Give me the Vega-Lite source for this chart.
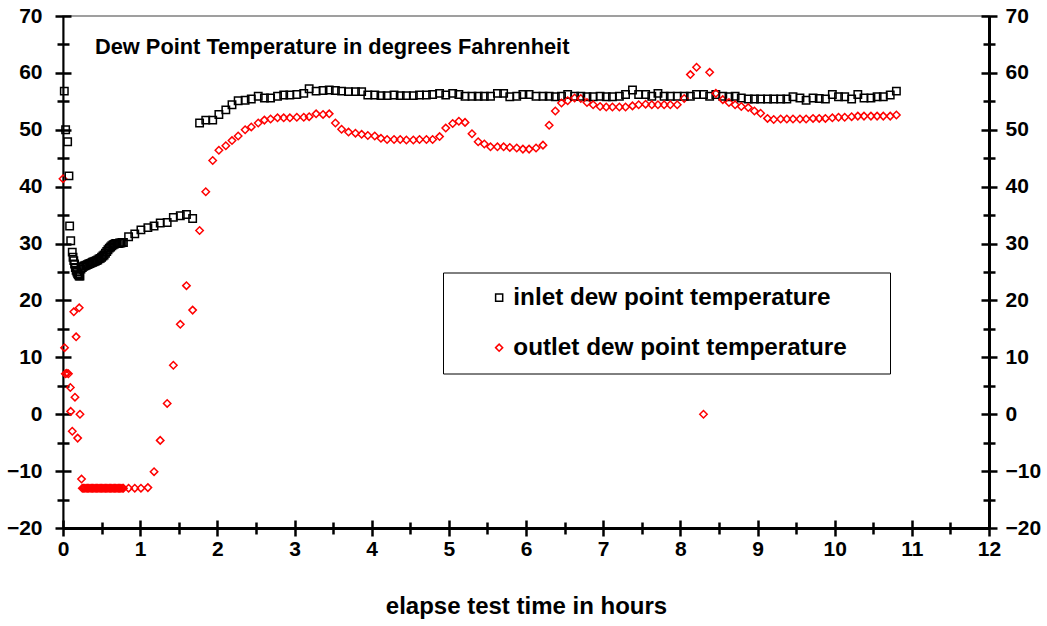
{
  "$schema": "https://vega.github.io/schema/vega-lite/v6.json",
  "width": 926,
  "height": 512,
  "autosize": {"type": "none"},
  "padding": {"left": 63, "top": 16, "right": 58, "bottom": 98},
  "background": "white",
  "view": {"stroke": "#808080", "strokeWidth": 1.5},
  "config": {
    "font": "Liberation Sans",
    "axis": {
      "grid": false,
      "labelFont": "Liberation Sans",
      "labelFontWeight": "bold",
      "labelFontSize": 21,
      "labelColor": "#000000",
      "labelFlush": false,
      "labelOverlap": false,
      "labelBound": false,
      "domainColor": "#000000",
      "tickColor": "#000000",
      "tickWidth": 2.5,
      "titleFont": "Liberation Sans",
      "titleFontWeight": "bold",
      "titleColor": "#000000"
    }
  },
  "title": {
    "text": "Dew Point Temperature in degrees Fahrenheit",
    "anchor": "start",
    "frame": "group",
    "orient": "top",
    "offset": -71,
    "dx": 32,
    "baseline": "alphabetic",
    "fontSize": 21.8,
    "font": "Liberation Sans",
    "fontWeight": "bold",
    "color": "#000000"
  },
  "resolve": {"axis": {"x": "independent", "y": "independent"}},
  "layer": [
    {
      "data": {"values": [
        {"h": 0.0, "o": 41.4},
        {"h": 0.017, "i": 56.8},
        {"h": 0.02, "o": 11.7},
        {"h": 0.03, "o": 7.1},
        {"h": 0.034, "i": 50.0},
        {"h": 0.05, "o": 7.2},
        {"h": 0.06, "i": 47.9},
        {"h": 0.07, "o": 7.1},
        {"h": 0.077, "i": 41.9},
        {"h": 0.086, "i": 33.1},
        {"h": 0.095, "o": 4.7},
        {"h": 0.10, "i": 30.5, "o": 0.5},
        {"h": 0.12, "i": 28.5, "o": -3.0},
        {"h": 0.13, "i": 27.6},
        {"h": 0.14, "i": 27.0, "o": 18.0},
        {"h": 0.15, "i": 26.4},
        {"h": 0.155, "o": 3.0},
        {"h": 0.16, "i": 25.8},
        {"h": 0.17, "i": 25.3, "o": 13.6},
        {"h": 0.18, "i": 25.0},
        {"h": 0.19, "i": 24.7, "o": -4.2},
        {"h": 0.20, "i": 24.5},
        {"h": 0.21, "i": 24.3, "o": 18.7},
        {"h": 0.22, "i": 24.3, "o": 0.0},
        {"h": 0.233, "i": 25.5},
        {"h": 0.24, "o": -11.4},
        {"h": 0.25, "i": 25.8, "o": -13.0},
        {"h": 0.267, "i": 26.0, "o": -13.0},
        {"h": 0.283, "i": 26.1, "o": -13.0},
        {"h": 0.30, "i": 26.2, "o": -13.0},
        {"h": 0.317, "i": 26.3, "o": -13.0},
        {"h": 0.333, "i": 26.4, "o": -13.0},
        {"h": 0.35, "i": 26.5, "o": -13.0},
        {"h": 0.367, "i": 26.6, "o": -13.0},
        {"h": 0.383, "i": 26.7, "o": -13.0},
        {"h": 0.40, "i": 26.8, "o": -13.0},
        {"h": 0.417, "i": 26.9, "o": -13.0},
        {"h": 0.433, "i": 27.0, "o": -13.0},
        {"h": 0.45, "i": 27.1, "o": -13.0},
        {"h": 0.467, "i": 27.3, "o": -13.0},
        {"h": 0.483, "i": 27.4, "o": -13.0},
        {"h": 0.50, "i": 27.6, "o": -13.0},
        {"h": 0.517, "i": 27.8, "o": -13.0},
        {"h": 0.533, "i": 28.0, "o": -13.0},
        {"h": 0.55, "i": 28.3, "o": -13.0},
        {"h": 0.567, "i": 28.6, "o": -13.0},
        {"h": 0.583, "i": 28.9, "o": -13.0},
        {"h": 0.60, "i": 29.2, "o": -13.0},
        {"h": 0.617, "i": 29.4, "o": -13.0},
        {"h": 0.633, "i": 29.6, "o": -13.0},
        {"h": 0.65, "i": 29.8, "o": -13.0},
        {"h": 0.667, "i": 29.9, "o": -13.0},
        {"h": 0.683, "i": 30.0, "o": -13.0},
        {"h": 0.70, "i": 30.0, "o": -13.0},
        {"h": 0.717, "i": 30.0, "o": -13.0},
        {"h": 0.733, "i": 30.1, "o": -13.0},
        {"h": 0.75, "i": 30.1, "o": -13.0},
        {"h": 0.767, "i": 30.2, "o": -13.0},
        {"h": 0.783, "i": 30.2, "o": -13.0},
        {"h": 0.85, "i": 31.2, "o": -13.0},
        {"h": 0.93, "i": 31.7, "o": -13.0},
        {"h": 1.01, "i": 32.4, "o": -13.0},
        {"h": 1.10, "i": 32.8, "o": -12.9},
        {"h": 1.18, "i": 33.1, "o": -10.1},
        {"h": 1.26, "i": 33.6, "o": -4.6},
        {"h": 1.35, "i": 33.7, "o": 1.9},
        {"h": 1.43, "i": 34.6, "o": 8.6},
        {"h": 1.52, "i": 34.9, "o": 15.8},
        {"h": 1.60, "i": 35.1, "o": 22.6},
        {"h": 1.68, "i": 34.4, "o": 18.3},
        {"h": 1.77, "i": 51.2, "o": 32.3},
        {"h": 1.85, "i": 51.7, "o": 39.1},
        {"h": 1.94, "i": 51.7, "o": 44.6},
        {"h": 2.02, "i": 52.7, "o": 46.4},
        {"h": 2.11, "i": 53.5, "o": 47.2},
        {"h": 2.19, "i": 54.4, "o": 48.1},
        {"h": 2.27, "i": 55.1, "o": 48.9},
        {"h": 2.36, "i": 55.2, "o": 50.0},
        {"h": 2.44, "i": 55.4, "o": 50.5},
        {"h": 2.53, "i": 55.9, "o": 51.2},
        {"h": 2.61, "i": 55.6, "o": 51.7},
        {"h": 2.69, "i": 55.6, "o": 51.9},
        {"h": 2.78, "i": 55.9, "o": 52.1},
        {"h": 2.86, "i": 56.1, "o": 52.1},
        {"h": 2.94, "i": 56.1, "o": 52.1},
        {"h": 3.03, "i": 56.2, "o": 52.2},
        {"h": 3.12, "i": 56.4, "o": 52.2},
        {"h": 3.19, "i": 57.2, "o": 52.3},
        {"h": 3.28, "i": 56.8, "o": 52.8},
        {"h": 3.37, "i": 56.9, "o": 52.7},
        {"h": 3.45, "i": 57.0, "o": 52.8},
        {"h": 3.53, "i": 56.9, "o": 51.2},
        {"h": 3.61, "i": 56.8, "o": 50.1},
        {"h": 3.70, "i": 56.7, "o": 49.6},
        {"h": 3.79, "i": 56.7, "o": 49.4},
        {"h": 3.87, "i": 56.7, "o": 49.2},
        {"h": 3.95, "i": 56.1, "o": 49.0},
        {"h": 4.04, "i": 56.1, "o": 48.9},
        {"h": 4.12, "i": 56.0, "o": 48.5},
        {"h": 4.20, "i": 56.0, "o": 48.3},
        {"h": 4.29, "i": 56.1, "o": 48.3},
        {"h": 4.37, "i": 56.0, "o": 48.3},
        {"h": 4.45, "i": 56.0, "o": 48.2},
        {"h": 4.54, "i": 56.0, "o": 48.2},
        {"h": 4.62, "i": 56.1, "o": 48.3},
        {"h": 4.71, "i": 56.1, "o": 48.3},
        {"h": 4.79, "i": 56.2, "o": 48.3},
        {"h": 4.88, "i": 56.4, "o": 48.8},
        {"h": 4.96, "i": 56.1, "o": 50.3},
        {"h": 5.05, "i": 56.4, "o": 51.1},
        {"h": 5.13, "i": 56.2, "o": 51.5},
        {"h": 5.21, "i": 55.9, "o": 51.3},
        {"h": 5.30, "i": 55.9, "o": 49.3},
        {"h": 5.38, "i": 55.9, "o": 47.9},
        {"h": 5.46, "i": 55.9, "o": 47.5},
        {"h": 5.54, "i": 55.9, "o": 47.0},
        {"h": 5.63, "i": 56.4, "o": 47.0},
        {"h": 5.71, "i": 56.4, "o": 47.0},
        {"h": 5.79, "i": 55.8, "o": 46.9},
        {"h": 5.88, "i": 55.9, "o": 46.8},
        {"h": 5.96, "i": 56.2, "o": 46.6},
        {"h": 6.04, "i": 56.2, "o": 46.6},
        {"h": 6.13, "i": 55.9, "o": 46.8},
        {"h": 6.22, "i": 55.9, "o": 47.3},
        {"h": 6.30, "i": 55.9, "o": 50.8},
        {"h": 6.38, "i": 55.8, "o": 53.3},
        {"h": 6.46, "i": 55.9, "o": 54.7},
        {"h": 6.54, "i": 56.2, "o": 55.1},
        {"h": 6.63, "i": 55.9, "o": 55.6},
        {"h": 6.71, "i": 55.9, "o": 55.5},
        {"h": 6.79, "i": 55.8, "o": 54.8},
        {"h": 6.87, "i": 55.8, "o": 54.4},
        {"h": 6.96, "i": 55.9, "o": 54.1},
        {"h": 7.04, "i": 55.8, "o": 54.0},
        {"h": 7.12, "i": 55.8, "o": 54.0},
        {"h": 7.21, "i": 55.9, "o": 54.0},
        {"h": 7.29, "i": 56.2, "o": 54.0},
        {"h": 7.38, "i": 57.0, "o": 54.2},
        {"h": 7.46, "i": 56.2, "o": 54.4},
        {"h": 7.55, "i": 56.2, "o": 54.5},
        {"h": 7.63, "i": 55.9, "o": 54.4},
        {"h": 7.71, "i": 56.4, "o": 54.4},
        {"h": 7.79, "i": 55.9, "o": 54.4},
        {"h": 7.87, "i": 55.9, "o": 54.4},
        {"h": 7.96, "i": 55.9, "o": 54.4},
        {"h": 8.05, "i": 55.9, "o": 55.5},
        {"h": 8.13, "i": 55.9, "o": 59.7},
        {"h": 8.21, "i": 56.2, "o": 61.0},
        {"h": 8.30, "i": 56.2, "o": 0.0},
        {"h": 8.38, "i": 55.9, "o": 60.1},
        {"h": 8.46, "i": 56.2, "o": 56.4},
        {"h": 8.55, "i": 55.9, "o": 55.3},
        {"h": 8.63, "i": 55.8, "o": 54.8},
        {"h": 8.71, "i": 55.9, "o": 54.4},
        {"h": 8.79, "i": 55.6, "o": 54.1},
        {"h": 8.88, "i": 55.4, "o": 53.9},
        {"h": 8.96, "i": 55.4, "o": 53.3},
        {"h": 9.04, "i": 55.4, "o": 52.9},
        {"h": 9.13, "i": 55.4, "o": 52.0},
        {"h": 9.21, "i": 55.4, "o": 51.8},
        {"h": 9.30, "i": 55.4, "o": 51.9},
        {"h": 9.38, "i": 55.4, "o": 51.9},
        {"h": 9.46, "i": 55.8, "o": 51.9},
        {"h": 9.55, "i": 55.6, "o": 51.9},
        {"h": 9.63, "i": 55.2, "o": 51.9},
        {"h": 9.72, "i": 55.6, "o": 52.0},
        {"h": 9.80, "i": 55.5, "o": 52.0},
        {"h": 9.88, "i": 55.4, "o": 52.0},
        {"h": 9.97, "i": 56.2, "o": 52.1},
        {"h": 10.05, "i": 55.8, "o": 52.2},
        {"h": 10.13, "i": 55.8, "o": 52.2},
        {"h": 10.22, "i": 55.4, "o": 52.3},
        {"h": 10.30, "i": 56.2, "o": 52.4},
        {"h": 10.38, "i": 55.6, "o": 52.4},
        {"h": 10.47, "i": 55.6, "o": 52.4},
        {"h": 10.55, "i": 55.8, "o": 52.4},
        {"h": 10.63, "i": 55.8, "o": 52.4},
        {"h": 10.72, "i": 56.1, "o": 52.4},
        {"h": 10.80, "i": 56.8, "o": 52.6}
      ]},
      "transform": [
        {"fold": ["i", "o"], "as": ["series", "temp"]},
        {"filter": "isValid(datum.temp)"}
      ],
      "mark": {"type": "point", "filled": false, "strokeWidth": 1.5, "size": 55, "opacity": 1},
      "encoding": {
        "x": {
          "field": "h", "type": "quantitative",
          "scale": {"domain": [0, 12], "nice": false, "zero": false},
          "axis": {
            "orient": "bottom",
            "values": [0, 1, 2, 3, 4, 5, 6, 7, 8, 9, 10, 11, 12],
            "ticks": false,
            "domainWidth": 3,
            "labelPadding": 10,
            "labelBaseline": "top",
            "title": "elapse test time in hours",
            "titleFontSize": 24,
            "titlePadding": 35
          }
        },
        "y": {
          "field": "temp", "type": "quantitative",
          "scale": {"domain": [-20, 70], "nice": false, "zero": false},
          "axis": {
            "orient": "left",
            "values": [-20, -10, 0, 10, 20, 30, 40, 50, 60, 70],
            "ticks": false,
            "domainWidth": 2,
            "labelPadding": 21,
            "title": null
          }
        },
        "color": {
          "field": "series", "type": "nominal",
          "scale": {"domain": ["i", "o"], "range": ["#000000", "#ff0000"]},
          "legend": {
            "orient": "none",
            "legendX": 380,
            "legendY": 256.5,
            "title": "\u200b",
            "titleOrient": "right",
            "titleFontSize": 2,
            "titlePadding": 30,
            "padding": 13,
            "strokeColor": "#000000",
            "fillColor": "#ffffff",
            "symbolOffset": 31,
            "symbolSize": 50,
            "symbolStrokeWidth": 1.5,
            "labelOffset": 2,
            "labelFont": "Liberation Sans",
            "labelFontWeight": "bold",
            "labelFontSize": 24.3,
            "labelColor": "#000000",
            "labelLimit": 600,
            "rowPadding": 25,
            "labelExpr": "datum.label == 'i' ? 'inlet dew point temperature' : 'outlet dew point temperature'"
          }
        },
        "shape": {
          "field": "series", "type": "nominal",
          "scale": {"domain": ["i", "o"], "range": ["square", "diamond"]}
        }
      }
    },
    {
      "data": {"values": [{"h": 0, "temp": -20}]},
      "mark": {"type": "point", "opacity": 0},
      "encoding": {
        "x": {"field": "h", "type": "quantitative",
          "axis": {"orient": "bottom", "values": [0, 1, 2, 3, 4, 5, 6, 7, 8, 9, 10, 11, 12], "labels": false, "domain": false, "tickSize": 16, "offset": -8, "title": null}},
        "y": {"field": "temp", "type": "quantitative",
          "axis": {"orient": "right", "values": [-20, -10, 0, 10, 20, 30, 40, 50, 60, 70], "ticks": false, "domainWidth": 3, "labelPadding": 16, "title": null}}
      }
    },
    {
      "data": {"values": [{"h": 0, "temp": -20}]},
      "mark": {"type": "point", "opacity": 0},
      "encoding": {
        "x": {"field": "h", "type": "quantitative",
          "axis": {"orient": "bottom", "values": [0.5, 1.5, 2.5, 3.5, 4.5, 5.5, 6.5, 7.5, 8.5, 9.5, 10.5, 11.5], "labels": false, "domain": false, "tickSize": 12, "offset": -6, "title": null}},
        "y": {"field": "temp", "type": "quantitative",
          "axis": {"orient": "left", "values": [-20, -10, 0, 10, 20, 30, 40, 50, 60, 70], "labels": false, "domain": false, "tickSize": 16, "offset": -8, "title": null}}
      }
    },
    {
      "data": {"values": [{"h": 0, "temp": -20}]},
      "mark": {"type": "point", "opacity": 0},
      "encoding": {
        "x": {"field": "h", "type": "quantitative", "axis": null},
        "y": {"field": "temp", "type": "quantitative",
          "axis": {"orient": "left", "values": [-15, -5, 5, 15, 25, 35, 45, 55, 65], "labels": false, "domain": false, "tickSize": 12, "offset": -6, "title": null}}
      }
    },
    {
      "data": {"values": [{"h": 0, "temp": -20}]},
      "mark": {"type": "point", "opacity": 0},
      "encoding": {
        "x": {"field": "h", "type": "quantitative", "axis": null},
        "y": {"field": "temp", "type": "quantitative",
          "axis": {"orient": "right", "values": [-20, -10, 0, 10, 20, 30, 40, 50, 60, 70], "labels": false, "domain": false, "tickSize": 16, "offset": -8, "title": null}}
      }
    },
    {
      "data": {"values": [{"h": 0, "temp": -20}]},
      "mark": {"type": "point", "opacity": 0},
      "encoding": {
        "x": {"field": "h", "type": "quantitative", "axis": null},
        "y": {"field": "temp", "type": "quantitative",
          "axis": {"orient": "right", "values": [-15, -5, 5, 15, 25, 35, 45, 55, 65], "labels": false, "domain": false, "tickSize": 12, "offset": -6, "title": null}}
      }
    }
  ]
}
